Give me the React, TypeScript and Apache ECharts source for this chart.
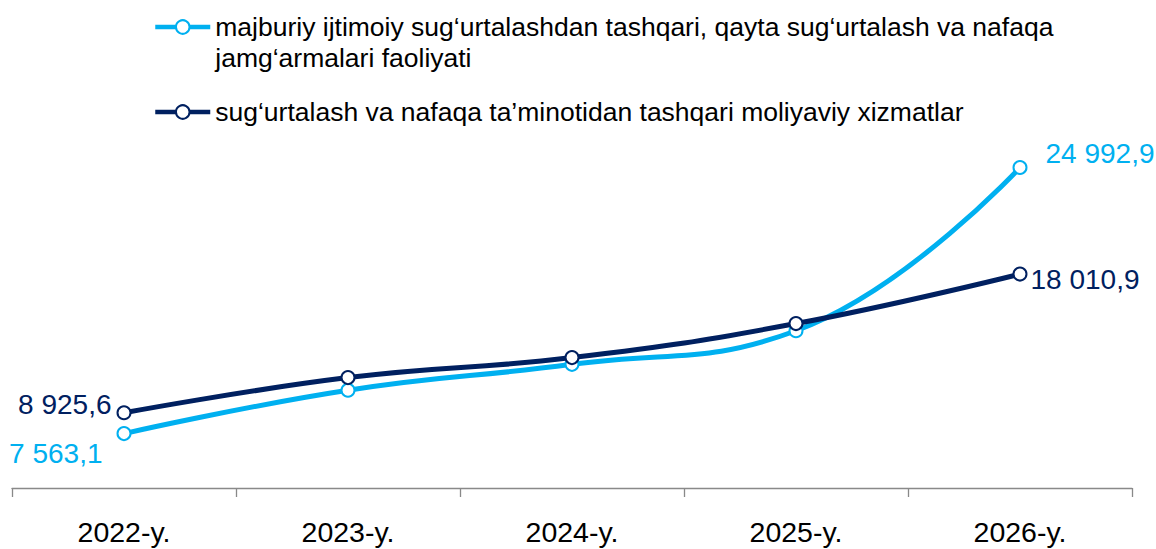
import React, { useEffect, useRef } from "react";
import * as echarts from "echarts";

const categories = ["2022-y.", "2023-y.", "2024-y.", "2025-y.", "2026-y."];
const seriesNames = [
  "majburiy ijtimoiy sug‘urtalashdan tashqari, qayta sug‘urtalash va nafaqa jamg‘armalari faoliyati",
  "sug‘urtalash va nafaqa ta’minotidan tashqari moliyaviy xizmatlar",
];
const reinsuranceValues = [7563.1, 10400, 12100, 14300, 24992.9];
const financialValues = [8925.6, 11230, 12540, 14770, 18010.9];

const LIGHT = "#00B0F0";
const NAVY = "#002060";
const FONT = "'Liberation Sans', Arial, sans-serif";

function fmt(v: number): string {
  const [i, d] = v.toFixed(1).split(".");
  return i.replace(/\B(?=(\d{3})+(?!\d))/g, " ") + "," + d;
}

function buildData(values: number[], color: string, firstLabel: any, lastLabel: any) {
  return values.map((v, idx) => {
    const item: any = { value: v };
    if (idx === 0 || idx === values.length - 1) {
      item.label = {
        show: true,
        color,
        fontSize: 28,
        fontFamily: FONT,
        formatter: (p: any) => fmt(p.value),
        ...(idx === 0 ? firstLabel : lastLabel),
      };
    }
    return item;
  });
}

export default function App() {
  const ref = useRef<HTMLDivElement>(null);
  useEffect(() => {
    if (!ref.current) return;
    const chart = echarts.init(ref.current, undefined, { renderer: "svg" });
    // leading empty line keeps the first text line level with the legend icon
    const legendText = (n: string) => "\n" + n.replace(" jamg‘armalari", "\njamg‘armalari");
    const legendCommon = {
      orient: "vertical",
      left: 153,
      padding: 0,
      itemWidth: 55,
      itemHeight: 17,
      selectedMode: false,
      lineStyle: { width: 4.5 },
    };
    const legendTextStyle = { fontSize: 26.5, fontFamily: FONT, color: "#000", lineHeight: 31 };
    chart.setOption({
      animation: false,
      backgroundColor: "#ffffff",
      legend: [
        {
          ...legendCommon,
          top: -19.5,
          data: [{ name: seriesNames[0], textStyle: legendTextStyle }],
          formatter: legendText,
        },
        {
          ...legendCommon,
          top: 96.5,
          data: [{ name: seriesNames[1], textStyle: legendTextStyle }],
        },
      ],
      grid: { left: 12, right: 24, top: 91, bottom: 61, containLabel: false },
      xAxis: {
        type: "category",
        data: categories,
        boundaryGap: true,
        axisLine: { show: true, lineStyle: { color: "#898989", width: 1.3 } },
        axisTick: { show: true, length: 9, interval: 0, lineStyle: { color: "#898989", width: 1.3 } },
        axisLabel: { color: "#000", fontSize: 28.5, fontFamily: FONT, margin: 29, interval: 0 },
        splitLine: { show: false },
      },
      yAxis: {
        type: "value",
        min: 4000,
        max: 30000,
        show: false,
        splitLine: { show: false },
      },
      series: [
        {
          name: seriesNames[0],
          type: "line",
          smooth: 0.45,
          symbol: "circle",
          symbolSize: 13,
          lineStyle: { color: LIGHT, width: 5 },
          itemStyle: { color: "#ffffff", borderColor: LIGHT, borderWidth: 2 },
          data: buildData(
            reinsuranceValues,
            LIGHT,
            { position: "left", distance: 5, offset: [-9, 20] },
            { position: "right", distance: 18, offset: [0, -14] }
          ),
        },
        {
          name: seriesNames[1],
          type: "line",
          smooth: 0.45,
          symbol: "circle",
          symbolSize: 13,
          lineStyle: { color: NAVY, width: 5 },
          itemStyle: { color: "#ffffff", borderColor: NAVY, borderWidth: 2 },
          data: buildData(
            financialValues,
            NAVY,
            { position: "left", distance: 5, offset: [0, -8] },
            { position: "right", distance: 3, offset: [0, 5] }
          ),
        },
      ],
    });
    return () => chart.dispose();
  }, []);
  return (
    <div
      ref={ref}
      style={{ position: "absolute", left: 0, top: 0, width: 1156, height: 549, background: "#fff" }}
    />
  );
}
